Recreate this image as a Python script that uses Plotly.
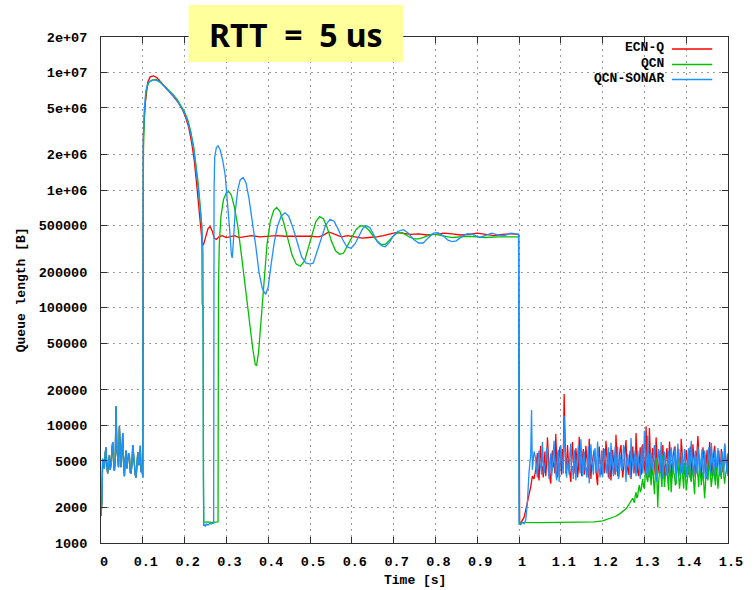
import math
import plotly.graph_objects as go

# ---------------- data ----------------
# common start (0 .. 0.1 s), sampled every 2 ms
pre_t = [round(0.002 * i, 3) for i in range(51)]
pre_v = [1700, 2200, 5200, 4600, 4300, 5800, 6500, 4400, 3900, 4800,
         5600, 4200, 4600, 6200, 7200, 4900, 4100, 5000, 14500, 6200,
         5300, 4400, 9800, 5600, 4400, 6000, 8600, 4800, 3700, 5200,
         6100, 4300, 4800, 5800, 5500, 4000, 3900, 4700, 6800, 5200,
         4500, 3800, 3600, 4900, 5900, 4600, 4700, 6700, 4000, 4300,
         3600]

# ECN-Q main part
ecn_t = [0.1015, 0.106, 0.112, 0.118, 0.126, 0.134, 0.144, 0.154, 0.164, 0.174, 0.184, 0.194,
         0.202, 0.210, 0.217, 0.223, 0.228, 0.233, 0.238, 0.242, 0.245, 0.250, 0.256, 0.261,
         0.266, 0.271, 0.276, 0.282, 0.29, 0.30, 0.31, 0.32, 0.33, 0.34, 0.36, 0.38, 0.40,
         0.42, 0.44, 0.46, 0.48, 0.50, 0.52, 0.53, 0.545, 0.56, 0.575, 0.59, 0.61, 0.625,
         0.64, 0.66, 0.675, 0.69, 0.705, 0.72, 0.74, 0.76, 0.78, 0.80, 0.82, 0.84, 0.86,
         0.88, 0.90, 0.92, 0.94, 0.96, 0.98, 0.999, 1.0, 1.0015, 1.004, 1.008, 1.012, 1.016,
         1.020, 1.024, 1.028, 1.032, 1.036]
ecn_v = [3.0e6, 5.5e6, 8.3e6, 9.2e6, 9.35e6, 9.0e6, 8.2e6, 7.5e6, 6.8e6, 6.2e6, 5.6e6, 4.9e6,
         4.2e6, 3.4e6, 2.5e6, 1.8e6, 1.2e6, 8.0e5, 5.2e5, 3.6e5, 3.4e5, 4.0e5, 4.7e5, 4.9e5,
         4.5e5, 3.9e5, 3.8e5, 4.0e5, 4.1e5, 3.95e5, 4.05e5, 4.1e5, 3.95e5, 4.0e5, 4.1e5, 4.0e5, 4.05e5,
         4.1e5, 4.05e5, 4.05e5, 4.1e5, 4.05e5, 4.0e5, 4.1e5, 4.4e5, 4.2e5, 4.0e5, 4.1e5, 4.0e5, 3.9e5,
         3.95e5, 4.0e5, 4.1e5, 4.2e5, 4.35e5, 4.3e5, 4.2e5, 4.25e5, 4.15e5, 4.2e5, 4.3e5, 4.25e5, 4.15e5,
         4.2e5, 4.3e5, 4.2e5, 4.1e5, 4.2e5, 4.25e5, 4.2e5, 1.2e4, 1500, 1480, 1550, 1650, 1900,
         2200, 2700, 3000, 3700, 3500]

# QCN main part
qcn_t = [0.1015, 0.104, 0.108, 0.114, 0.122, 0.132, 0.142, 0.152, 0.162, 0.172, 0.182, 0.192,
         0.200, 0.208, 0.215, 0.222, 0.228, 0.233, 0.237, 0.241, 0.242, 0.244, 0.245, 0.246,
         0.255, 0.265, 0.280, 0.281, 0.283, 0.287, 0.293, 0.300, 0.306, 0.312, 0.319, 0.327,
         0.336, 0.346, 0.355, 0.363, 0.369, 0.372, 0.377, 0.383, 0.39, 0.397, 0.405, 0.413,
         0.42, 0.428, 0.437, 0.447, 0.457, 0.467, 0.477, 0.487, 0.496, 0.505, 0.514, 0.523,
         0.532, 0.541, 0.551, 0.561, 0.571, 0.58, 0.59, 0.60, 0.61, 0.62, 0.63, 0.64, 0.65,
         0.66, 0.67, 0.68, 0.69, 0.70, 0.71, 0.72, 0.73, 0.74, 0.75, 0.76, 0.77, 0.78, 0.79,
         0.80, 0.82, 0.84, 0.86, 0.88, 0.90, 0.92, 0.95, 0.98, 0.999, 1.0, 1.001, 1.05, 1.10,
         1.15, 1.18, 1.20, 1.215, 1.23, 1.24, 1.25, 1.256, 1.262, 1.268]
qcn_v = [2.2e6, 4.5e6, 7.0e6, 8.2e6, 8.6e6, 8.7e6, 8.3e6, 7.7e6, 7.1e6, 6.5e6, 5.9e6, 5.2e6,
         4.6e6, 3.9e6, 3.1e6, 2.3e6, 1.6e6, 1.1e6, 7.5e5, 5.0e5, 1.1e5, 1.0e5, 3500, 1500,
         1510, 1500, 1510, 1.5e5, 3.5e5, 6.0e5, 8.3e5, 9.5e5, 9.7e5, 9.0e5, 7.2e5, 5.0e5,
         2.8e5, 1.4e5, 7.5e4, 4.5e4, 3.3e4, 3.2e4, 4.2e4, 8.0e4, 1.8e5, 3.4e5, 5.4e5, 6.7e5,
         7.1e5, 6.6e5, 5.3e5, 3.8e5, 2.8e5, 2.35e5, 2.25e5, 2.5e5, 3.2e5, 4.3e5, 5.4e5, 5.95e5,
         5.7e5, 4.8e5, 3.7e5, 3.05e5, 2.85e5, 2.9e5, 3.4e5, 4.0e5, 4.6e5, 4.95e5, 4.95e5, 4.6e5, 4.1e5,
         3.7e5, 3.45e5, 3.45e5, 3.75e5, 4.1e5, 4.35e5, 4.35e5, 4.15e5, 3.95e5, 3.85e5, 3.85e5, 3.95e5, 4.1e5, 4.2e5,
         4.2e5, 4.05e5, 3.95e5, 4.0e5, 4.05e5, 4.0e5, 3.95e5, 4.0e5, 4.0e5, 4.0e5, 1.6e4, 1500, 1490, 1500,
         1500, 1510, 1540, 1600, 1680, 1760, 1880, 1950, 2100, 2250]

# QCN-SONAR main part
sonar_t = [0.101, 0.1035, 0.107, 0.111, 0.117, 0.124, 0.132, 0.142, 0.152, 0.162, 0.172, 0.182,
           0.192, 0.200, 0.208, 0.215, 0.222, 0.228, 0.233, 0.237, 0.241, 0.244, 0.2455, 0.248,
           0.250, 0.252, 0.256, 0.26, 0.264, 0.268, 0.2695, 0.2705, 0.272, 0.276, 0.280, 0.285,
           0.291, 0.297, 0.302, 0.307, 0.312, 0.314, 0.317, 0.321, 0.327, 0.333, 0.34, 0.347,
           0.354, 0.362, 0.37, 0.378, 0.386, 0.394, 0.40, 0.406, 0.414, 0.422, 0.431, 0.44,
           0.449, 0.459, 0.47, 0.48, 0.49, 0.50, 0.508, 0.517, 0.527, 0.537, 0.548, 0.558,
           0.568, 0.578, 0.588, 0.598, 0.608, 0.618, 0.626, 0.634, 0.643, 0.652, 0.662, 0.672,
           0.68, 0.69, 0.70, 0.71, 0.724, 0.735, 0.748, 0.76, 0.771, 0.782, 0.795, 0.806,
           0.818, 0.83, 0.84, 0.85, 0.862, 0.876, 0.89, 0.905, 0.92, 0.935, 0.95, 0.965,
           0.98, 0.999, 1.0, 1.004, 1.008, 1.012, 1.016, 1.020, 1.024, 1.028, 1.030, 1.032, 1.036]
sonar_v = [2.6e6, 4.8e6, 6.8e6, 7.9e6, 8.4e6, 8.6e6, 8.6e6, 8.2e6, 7.6e6, 7.0e6, 6.4e6, 5.8e6,
           5.1e6, 4.5e6, 3.8e6, 3.0e6, 2.2e6, 1.5e6, 1.0e6, 7.0e5, 5.0e5, 3.0e5, 1400, 1430,
           1380, 1450, 1420, 1470, 1450, 1480, 1470, 1.0e6, 1.9e6, 2.3e6, 2.38e6, 2.2e6,
           1.8e6, 1.35e6, 8.5e5, 5.0e5, 2.8e5, 2.65e5, 3.8e5, 6.5e5, 1.0e6, 1.22e6, 1.28e6, 1.15e6,
           8.5e5, 5.5e5, 3.4e5, 2.0e5, 1.45e5, 1.3e5, 1.5e5, 2.2e5, 3.5e5, 4.9e5, 6.0e5, 6.4e5,
           6.0e5, 4.8e5, 3.5e5, 2.7e5, 2.4e5, 2.35e5, 2.4e5, 3.0e5, 3.9e5, 5.0e5, 5.65e5, 5.4e5,
           4.6e5, 3.8e5, 3.3e5, 3.2e5, 3.5e5, 4.1e5, 4.7e5, 5.0e5, 4.8e5, 4.2e5, 3.6e5, 3.35e5,
           3.3e5, 3.6e5, 4.1e5, 4.45e5, 4.6e5, 4.3e5, 3.8e5, 3.55e5, 3.55e5, 3.9e5, 4.3e5, 4.35e5,
           4.1e5, 3.75e5, 3.65e5, 3.7e5, 4.0e5, 4.25e5, 4.2e5, 3.95e5, 4.1e5, 4.3e5, 4.15e5, 4.1e5,
           4.3e5, 4.2e5, 1450, 1430, 1500, 1460, 1550, 2200, 4000, 5600, 13500, 4200, 6000]

# noisy tail after the burst (1.04 .. 1.5 s, every 2 ms)
tail_t = [round(1.04 + 0.002 * i, 3) for i in range(231)]
ecn_tail = [4200, 4900, 5800, 3900, 3400, 5600, 6700, 4300, 4500, 3600,
            5200, 6000, 3700, 4800, 7900, 5100, 4300, 3500, 3200, 5300,
            6100, 4400, 4800, 3900, 8500, 5200, 3600, 4700, 5400, 6600,
            4700, 3800, 6300, 5100, 18500, 6200, 3900, 4400, 6800, 5000,
            4400, 3700, 3300, 5600, 7200, 4800, 5000, 3900, 6400, 5300,
            3600, 4200, 8000, 5600, 4600, 3700, 5500, 6300, 3800, 4500,
            6700, 5000, 4100, 3600, 7700, 5200, 3500, 4600, 5300, 6000,
            6200, 4900, 4400, 3500, 3100, 5400, 6600, 4700, 4900, 3800,
            5700, 6400, 3900, 4300, 7400, 5500, 4600, 3600, 5900, 4800,
            3400, 4700, 6200, 5100, 4300, 3800, 8300, 5400, 3700, 4400,
            5600, 6300, 6800, 4500, 3600, 4200, 4900, 6000, 7500, 4700,
            4200, 3800, 5300, 6100, 3500, 4600, 6600, 5200, 4700, 3900,
            8600, 5600, 4000, 3700, 5800, 6500, 3800, 4200, 6900, 5100,
            4500, 3900, 9800, 5500, 4100, 3600, 9500, 5300, 3700, 4900,
            6400, 5200, 4700, 3800, 7900, 5600, 3900, 4400, 5500, 6100,
            4300, 3700, 6800, 5000, 3600, 4500, 5900, 6400, 4800, 3900,
            7300, 5300, 4000, 3600, 5200, 6200, 6600, 4900, 3800, 4400,
            5700, 6300, 4300, 3700, 7700, 5600, 4600, 3900, 3900, 5200,
            6200, 5000, 4500, 3800, 5900, 6600, 3700, 4300, 6900, 5400,
            4100, 3600, 5400, 6100, 8100, 5500, 4400, 3800, 3600, 5000,
            6500, 5300, 4800, 3900, 5600, 6200, 3900, 4400, 7200, 5400,
            4300, 3700, 5100, 5900, 6700, 4800, 3800, 4400, 5500, 6100,
            4600, 3900, 6300, 5200, 4000, 4500, 7000, 5600, 4700, 4100,
            5800]
sonar_tail = [5200, 4100, 3600, 5500, 6100, 4700, 4400, 3800, 7200, 5100,
              3900, 4600, 5000, 6300, 6500, 4200, 3500, 4900, 5800, 3700,
              4300, 5900, 7400, 4500, 4000, 3400, 5600, 6200, 3300, 4800,
              6800, 5300, 4700, 3900, 12000, 5600, 4100, 3600, 5300, 4400,
              3800, 5900, 7000, 4200, 4500, 3500, 6200, 5000, 3400, 4600,
              5500, 6700, 4900, 3900, 7600, 4400, 3700, 5300, 6000, 4100,
              4400, 3600, 5100, 6600, 3200, 4500, 6900, 5200, 4600, 3800,
              5800, 6400, 3900, 4700, 7300, 5000, 4200, 3600, 5400, 6100,
              3600, 4900, 6300, 5500, 4800, 3900, 5200, 6500, 3500, 4300,
              7100, 5200, 4300, 3700, 5900, 6600, 4000, 4900, 6600, 3500,
              3800, 5600, 5000, 4100, 4500, 6800, 6400, 3700, 3300, 5100,
              5700, 4600, 4700, 3600, 7800, 5500, 4100, 3900, 5300, 6200,
              3700, 4800, 6100, 5000, 4400, 3500, 5600, 6700, 3900, 4600,
              9000, 5400, 4600, 3800, 8200, 4700, 3600, 5100, 5900, 4300,
              4200, 6000, 6800, 4400, 3800, 3300, 5400, 6300, 4900, 4000,
              7200, 5600, 3500, 4200, 6000, 5200, 4400, 3700, 5100, 6100,
              3700, 4600, 6500, 5500, 4300, 3900, 5800, 6600, 3400, 4700,
              7000, 5300, 4800, 3800, 5300, 6000, 3900, 4500, 6300, 5000,
              4500, 3600, 5500, 6400, 3600, 4800, 7400, 5400, 4100, 3700,
              5200, 6100, 4700, 3900, 6600, 5600, 3800, 4400, 5700, 6300,
              4300, 3500, 6100, 5300, 3500, 4700, 5400, 6500, 4900, 3900,
              7100, 5600, 4000, 3700, 5800, 6200, 4400, 4800, 6400, 5200,
              3700, 4500, 5600, 6000, 4600, 3800, 6900, 5500, 4200, 3900,
              5100]
qcn_tail_t = [round(1.272 + 0.002 * i, 3) for i in range(115)]
qcn_tail = [2400, 2300, 2200, 2500, 2700, 2400, 2500, 2900, 3100, 2700,
            2800, 3200, 3500, 3000, 2900, 3800, 4600, 3500, 3300, 4200,
            5800, 4000, 3100, 3900, 4700, 3300, 2600, 3700, 5200, 3400,
            2000, 3300, 4400, 4800, 3600, 3000, 5600, 4300, 3000, 3700,
            4200, 4700, 3400, 2800, 5000, 4100, 2700, 3600, 4600, 3900,
            3800, 3100, 3200, 4500, 5300, 3700, 2900, 3500, 4100, 4800,
            3500, 2900, 4800, 4100, 2800, 3400, 3900, 4500, 5100, 3600,
            3300, 4000, 4300, 3200, 2600, 3800, 4700, 4100, 3700, 3000,
            5200, 4100, 3100, 3600, 4000, 3200, 2400, 3100, 4500, 3900,
            3400, 4300, 5500, 3800, 3000, 3500, 4200, 4700, 3600, 3100,
            4900, 4000, 2900, 3600, 4400, 3900, 3500, 4600, 5300, 3700,
            3200, 3800, 4100, 4500, 3700]

series_names = ["ECN-Q", "QCN", "QCN-SONAR"]
series_colors = ["#FF0000", "#00C000", "#1E90FF"]

y_tickvals = [1000, 2000, 5000, 10000, 20000, 50000, 100000, 200000, 500000,
              1e6, 2e6, 5e6, 1e7, 2e7]
y_ticktext = ["1000", "2000", "5000", "10000", "20000", "50000", "100000", "200000",
              "500000", "1e+06", "2e+06", "5e+06", "1e+07", "2e+07"]
x_tickvals = [round(0.1 * i, 1) for i in range(16)]
x_ticktext = ["0", "0.1", "0.2", "0.3", "0.4", "0.5", "0.6", "0.7", "0.8", "0.9",
              "1", "1.1", "1.2", "1.3", "1.4", "1.5"]

# ---------------- figure ----------------
xs = [pre_t + ecn_t + tail_t,
      pre_t + qcn_t + qcn_tail_t,
      pre_t + sonar_t + tail_t]
ys = [pre_v + ecn_v + ecn_tail,
      pre_v + qcn_v + qcn_tail,
      pre_v + sonar_v + sonar_tail]

fig = go.Figure()
for name, col, x, y in zip(series_names, series_colors, xs, ys):
    fig.add_trace(go.Scatter(x=x, y=y, mode="lines", name=name,
                             line=dict(color=col, width=1.3), showlegend=False))

mono = "Liberation Mono"
tick_font = dict(family=mono, size=13.5, color="#000000", weight="bold")
frame = "#303030"
fig.update_xaxes(range=[0, 1.5], tickvals=x_tickvals, ticktext=x_ticktext,
                 showline=True, linecolor=frame, linewidth=1, mirror="ticks",
                 ticks="inside", ticklen=6, tickcolor=frame,
                 showgrid=True, gridcolor="#9A9A9A", gridwidth=1, griddash="2px,4px",
                 zeroline=False, tickfont=tick_font, ticklabelstandoff=6, ticklabelshift=3)
fig.update_yaxes(type="log", range=[3, math.log10(2e7)], tickvals=y_tickvals, ticktext=y_ticktext,
                 showline=True, linecolor=frame, linewidth=1, mirror="ticks",
                 ticks="inside", ticklen=6, tickcolor=frame,
                 showgrid=True, gridcolor="#9A9A9A", gridwidth=1, griddash="2px,4px",
                 zeroline=False, tickfont=tick_font, ticklabelstandoff=10)

W, H = 755, 590
L, R, T, B = 101, 17, 37, 47
pw, ph = W - L - R, H - T - B


def px(xp):
    return (xp - L) / pw


def py(yp):
    return (H - B - yp) / ph


label_font = dict(family=mono, size=13, color="#000000", weight="bold")
annotations = [
    dict(text="Time [s]", x=px(420), y=py(580), xref="paper", yref="paper",
         showarrow=False, font=label_font, xanchor="center", yanchor="middle"),
    dict(text="Queue length [B]", x=px(20), y=py(290), xref="paper", yref="paper",
         showarrow=False, font=label_font, textangle=-90, xanchor="center", yanchor="middle"),
    dict(text="RTT\u00a0\u00a0=\u00a0\u00a05\u00a0us", x=px(299), y=py(34), xref="paper", yref="paper",
         showarrow=False, font=dict(family="Noto Sans", size=32, color="#000000", weight="bold"),
         xanchor="center", yanchor="middle"),
]
shapes = [
    dict(type="rect", xref="paper", yref="paper", x0=px(190), x1=px(408), y0=py(62), y1=py(5),
         fillcolor="#FFFF9C", line=dict(width=0), layer="above"),
]
legend_y = [49, 64.5, 79.5]
for name, col, ly in zip(series_names, series_colors, legend_y):
    annotations.append(dict(text=name, x=px(675), y=py(ly - 1), xref="paper", yref="paper",
                            showarrow=False, font=label_font, xanchor="right", yanchor="middle"))
    shapes.append(dict(type="line", xref="paper", yref="paper", x0=px(681), x1=px(722),
                       y0=py(ly), y1=py(ly), line=dict(color=col, width=1.3), layer="above"))

fig.update_layout(width=W, height=H, margin=dict(l=L, r=R, t=T, b=B, pad=0),
                  plot_bgcolor="white", paper_bgcolor="white",
                  annotations=annotations, shapes=shapes)
fig.write_html("out.html")
